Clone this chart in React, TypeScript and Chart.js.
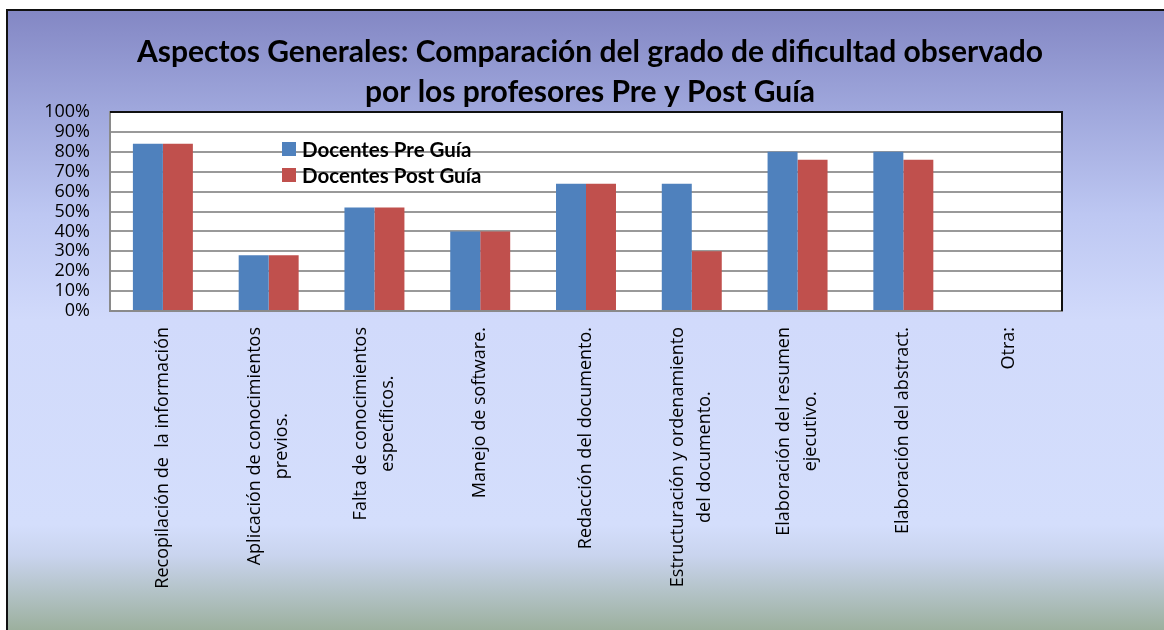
import { useEffect, useRef } from "react";
import { Chart, registerables } from "chart.js";

Chart.register(...registerables);

const categoryLines: string[][] = [
  ["Recopilación de  la información"],
  ["Aplicación de conocimientos", "previos."],
  ["Falta de conocimientos", "específicos."],
  ["Manejo de software."],
  ["Redacción del documento."],
  ["Estructuración y ordenamiento", "del documento."],
  ["Elaboración del resumen", "ejecutivo."],
  ["Elaboración del abstract."],
  ["Otra:"],
];
const preGuia = [84, 28, 52, 40, 64, 64, 80, 80, 0];
const postGuia = [84, 28, 52, 40, 64, 30, 76, 76, 0];
const seriesNames = ["Docentes Pre Guía", "Docentes Post Guía"];
const seriesColors = ["#4f81bd", "#c0504d"];
const titleLines = [
  "Aspectos Generales: Comparación del grado de dificultad observado",
  "por los profesores Pre y Post Guía",
];
const yMin = 0;
const yMax = 100;
const yStep = 10;

const W = 1164;
const H = 630;

const backgroundPlugin = {
  id: "bgFrame",
  beforeDraw(chart: any) {
    const ctx = chart.ctx;
    const { width, height } = chart;
    ctx.save();
    ctx.fillStyle = "#ffffff";
    ctx.fillRect(0, 0, width, height);
    const g = ctx.createLinearGradient(0, 10, 0, height);
    g.addColorStop(0, "#8387c4");
    g.addColorStop(0.16, "#9fa7dc");
    g.addColorStop(0.33, "#bdc7f2");
    g.addColorStop(0.5, "#d1dafb");
    g.addColorStop(0.83, "#d4defc");
    g.addColorStop(0.88, "#c9d4ee");
    g.addColorStop(1, "#9cb09e");
    ctx.fillStyle = g;
    ctx.fillRect(7, 10, width - 7, height - 10);
    ctx.fillStyle = "#111111";
    ctx.fillRect(6, 9, width - 6, 2);
    ctx.fillRect(6, 9, 2, height - 9);
    const a = chart.chartArea;
    ctx.fillStyle = "#ffffff";
    ctx.fillRect(a.left, a.top, a.right - a.left, a.bottom - a.top);
    ctx.restore();
  },
};

const titlePlugin = {
  id: "titleText",
  afterDraw(chart: any) {
    const ctx = chart.ctx;
    ctx.save();
    ctx.fillStyle = "#000000";
    ctx.font = "bold 30px Lato";
    ctx.textAlign = "center";
    ctx.textBaseline = "alphabetic";
    titleLines.forEach((t, i) => ctx.fillText(t, 590, 62 + i * 40));
    ctx.restore();
  },
};

const xLabelsPlugin = {
  id: "xLabels",
  afterDraw(chart: any) {
    const ctx = chart.ctx;
    const xs = chart.scales.x;
    const top = chart.chartArea.bottom + 16;
    ctx.save();
    ctx.fillStyle = "#000000";
    ctx.font = "18px 'Open Sans'";
    ctx.textAlign = "center";
    ctx.textBaseline = "middle";
    categoryLines.forEach((lines, i) => {
      const x = xs.getPixelForValue(i);
      const maxLen = Math.max(...lines.map((l) => ctx.measureText(l).width));
      ctx.save();
      ctx.translate(x, top);
      ctx.rotate(-Math.PI / 2);
      lines.forEach((l, j) => {
        ctx.fillText(l, -maxLen / 2, (j - (lines.length - 1) / 2) * 27);
      });
      ctx.restore();
    });
    ctx.restore();
  },
};

const borderLegendPlugin = {
  id: "borderLegend",
  afterDatasetsDraw(chart: any) {
    const ctx = chart.ctx;
    const a = chart.chartArea;
    ctx.save();
    ctx.fillStyle = "#111111";
    ctx.fillRect(a.left, a.top - 1, a.right - a.left + 1, 2);
    ctx.fillRect(a.right - 1, a.top - 1, 2, a.bottom - a.top + 1);
    // legend
    const lx = a.left + 172;
    const ly = a.top + 37;
    ctx.font = "bold 20.5px Lato";
    ctx.textAlign = "left";
    ctx.textBaseline = "middle";
    chart.data.datasets.forEach((ds: any, i: number) => {
      const cy = ly + i * 26;
      ctx.fillStyle = ds.backgroundColor;
      ctx.fillRect(lx, cy - 7, 14, 14);
      ctx.fillStyle = "#000000";
      ctx.fillText(ds.label, lx + 20, cy + 1);
    });
    ctx.restore();
  },
};

export default function App() {
  const ref = useRef<HTMLCanvasElement | null>(null);
  useEffect(() => {
    if (!ref.current) return;
    const chart = new Chart(ref.current, {
      type: "bar",
      data: {
        labels: categoryLines.map((l) => l.join(" ")),
        datasets: [
          {
            label: seriesNames[0],
            data: preGuia,
            backgroundColor: seriesColors[0],
            categoryPercentage: 0.567,
            barPercentage: 1,
          },
          {
            label: seriesNames[1],
            data: postGuia,
            backgroundColor: seriesColors[1],
            categoryPercentage: 0.567,
            barPercentage: 1,
          },
        ],
      },
      options: {
        responsive: false,
        animation: false,
        layout: { padding: { top: 112, left: 0, right: W - 1062, bottom: 0 } },
        plugins: {
          legend: { display: false },
          title: { display: false },
          tooltip: { enabled: false },
        },
        scales: {
          x: {
            grid: { display: false },
            border: { color: "#8a8a8a", width: 2 },
            ticks: { display: false },
            afterFit(scale: any) {
              scale.height = H - 311;
            },
          },
          y: {
            min: yMin,
            max: yMax,
            grid: { color: "#999999", lineWidth: 2, drawTicks: false },
            border: { color: "#8a8a8a", width: 2 },
            ticks: {
              stepSize: yStep,
              autoSkip: false,
              padding: 20,
              color: "#000000",
              font: { family: "'Open Sans'", size: 18, lineHeight: 1 },
              callback: (v: any) => v + "%",
            },
            afterFit(scale: any) {
              scale.width = 110;
            },
          },
        },
      },
      plugins: [backgroundPlugin, borderLegendPlugin, titlePlugin, xLabelsPlugin],
    } as any);
    return () => chart.destroy();
  }, []);
  return (
    <div style={{ position: "absolute", left: 0, top: 0, width: W, height: H }}>
      <canvas ref={ref} width={W} height={H} style={{ display: "block" }} />
    </div>
  );
}
